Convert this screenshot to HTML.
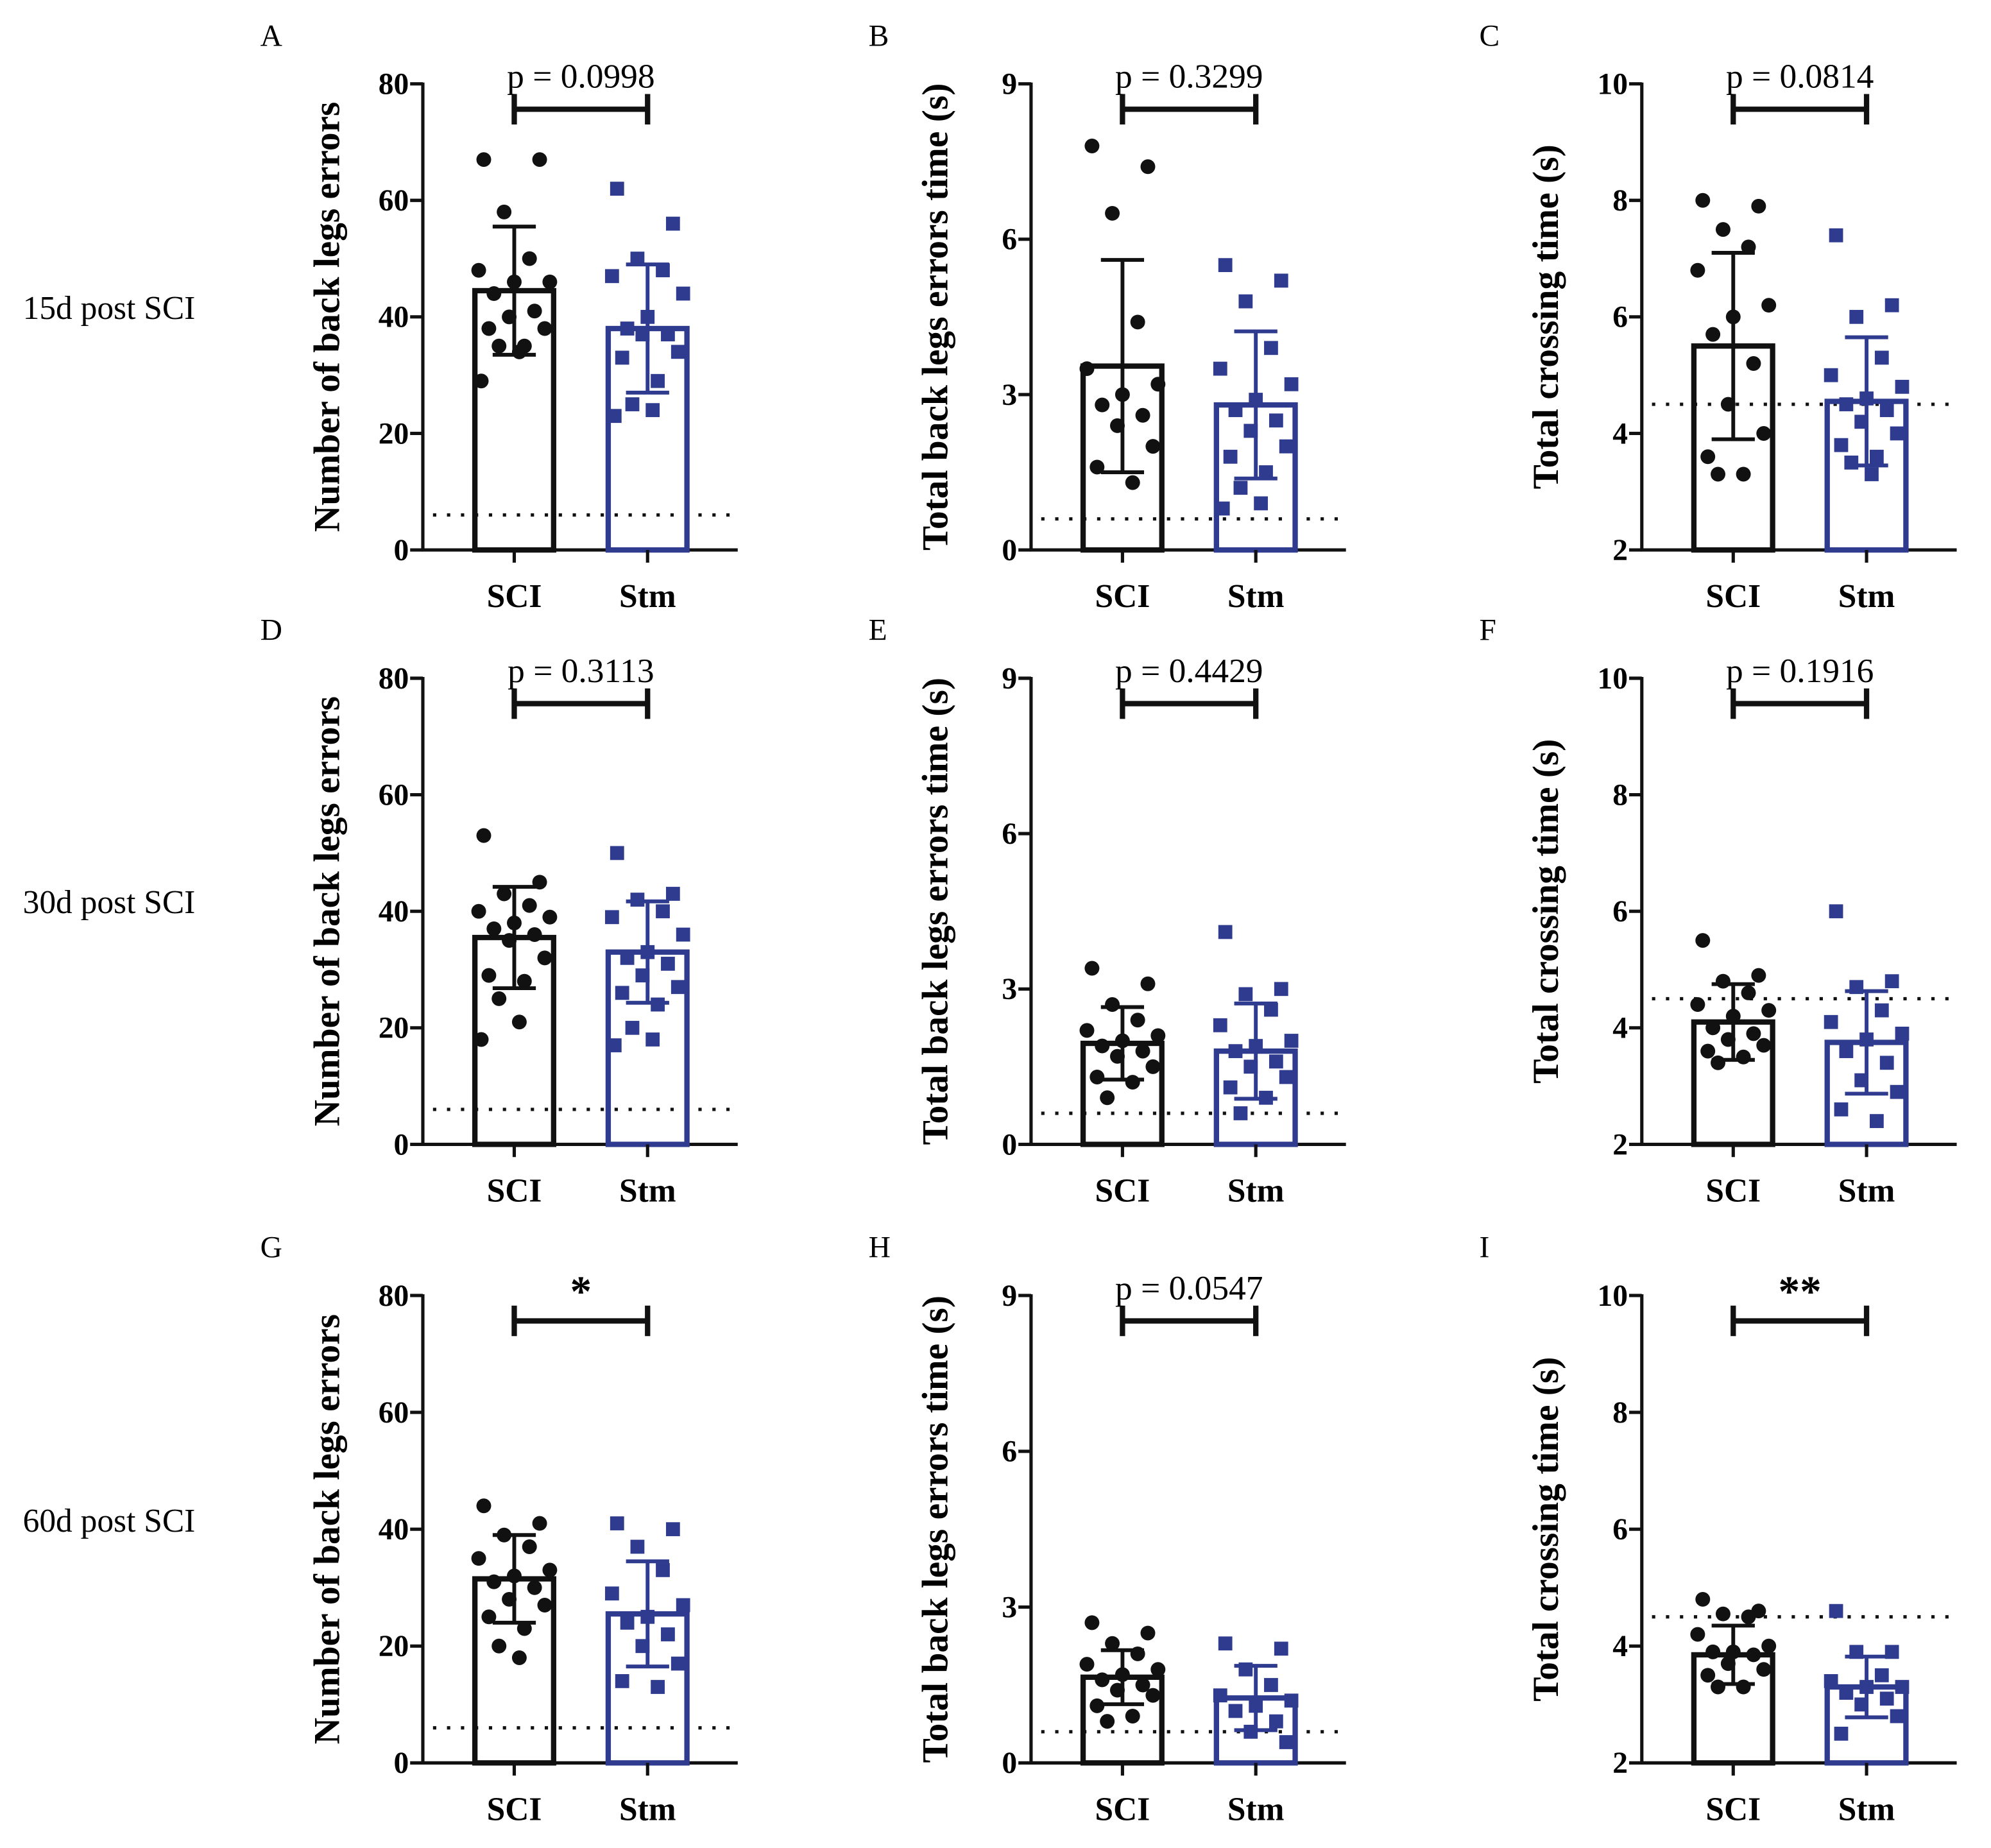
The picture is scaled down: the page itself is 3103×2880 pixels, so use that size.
<!DOCTYPE html>
<html><head><meta charset="utf-8"><style>
html,body{margin:0;padding:0;background:#fff;}
svg{display:block;}
text{font-family:"Liberation Serif",serif;}
</style></head><body>
<svg id="fig" width="3103" height="2880" viewBox="0 0 1568 1455" preserveAspectRatio="none" xmlns="http://www.w3.org/2000/svg">
<rect width="1568" height="1455" fill="#fff"/>
</svg>
<script>
const letters=["A","B","C","D","E","F","G","H","I"];
const rowLabels=["15d post SCI","30d post SCI","60d post SCI"];
const groups=["SCI","Stm"];
const sigLabels=["p = 0.0998","p = 0.3299","p = 0.0814","p = 0.3113","p = 0.4429","p = 0.1916","*","p = 0.0547","**"];
const yTitles=["Number of back legs errors","Total back legs errors time (s)","Total crossing time (s)"];
const yTicksA=[0,20,40,60,80];
const yTicksB=[0,3,6,9];
const yTicksC=[2,4,6,8,10];
const refLines=[6,0.6,4.5];
const sciMeans=[44.5,3.55,5.5,35.5,1.95,4.1,31.5,1.65,3.85];
const sciSD=[11,2.05,1.6,8.7,0.7,0.65,7.5,0.52,0.5];
const stmMeans=[38,2.8,4.55,33,1.8,3.75,25.5,1.25,3.3];
const stmSD=[11,1.42,1.1,8.7,0.92,0.88,9,0.62,0.52];
const sciPts=[
[67,67,58,50,48,46,46,44,41,40,38,38,35,35,34,29],
[7.8,7.4,6.5,4.4,3.5,3.2,3.0,2.8,2.6,2.4,2.0,1.6,1.3],
[8,7.9,7.5,7.2,6.8,6.2,6.0,5.7,5.2,4.5,4.0,3.6,3.3,3.3],
[53,45,43,41,40,39,38,37,36,35,32,29,28,25,21,18],
[3.4,3.1,2.7,2.4,2.2,2.1,2.0,1.9,1.8,1.7,1.5,1.3,1.2,0.9],
[5.5,4.9,4.8,4.6,4.4,4.3,4.2,4.0,3.9,3.8,3.7,3.6,3.5,3.4],
[44,41,39,37,35,33,32,31,30,28,27,25,23,20,18],
[2.7,2.5,2.3,2.1,1.9,1.8,1.7,1.6,1.5,1.4,1.3,1.1,0.9,0.8],
[4.8,4.6,4.55,4.5,4.2,4.0,3.9,3.9,3.85,3.7,3.6,3.5,3.3,3.3]];
const stmPts=[
[62,56,50,48,47,44,40,38,37,37,34,33,29,25,24,23],
[5.5,5.2,4.8,3.9,3.5,3.2,2.9,2.7,2.5,2.3,2.0,1.8,1.5,1.2,0.9,0.8],
[7.4,6.2,6.0,5.3,5.0,4.8,4.6,4.5,4.4,4.2,4.0,3.8,3.6,3.5,3.3],
[50,43,42,40,39,36,33,32,31,29,27,26,24,20,18,17],
[4.1,3.0,2.9,2.6,2.3,2.0,1.9,1.8,1.6,1.5,1.3,1.1,0.9,0.6],
[6.0,4.8,4.7,4.3,4.1,3.9,3.8,3.6,3.4,3.1,2.9,2.6,2.4],
[41,40,37,33,29,27,25,24,22,20,17,14,13],
[2.3,2.2,1.8,1.5,1.3,1.2,1.1,1.0,0.8,0.6,0.4],
[4.6,3.9,3.9,3.5,3.4,3.3,3.3,3.2,3.1,3.0,2.8,2.5]];

const NS="http://www.w3.org/2000/svg";
const svg=document.getElementById('fig');
function mk(tag,attrs,parent,txt){const e=document.createElementNS(NS,tag);for(const k in attrs)e.setAttribute(k,attrs[k]);if(txt!==undefined)e.textContent=txt;(parent||svg).appendChild(e);return e;}
const BLUE="#2f3b8f";
const axisX=[333,812,1293];
const rowTop=[66,534,1020];
const rowBot=[433,901,1388];
const jit=[-24,20,-8,12,-28,28,0,-16,16,-4,24,-20,8,-12,4,-26];

for(let r=0;r<3;r++){
  const rl=mk('text',{x:18,y:rowBot[r]-190+8,'font-size':26},svg,rowLabels[r]);
  
  
  for(let c=0;c<3;c++){
    const i=r*3+c;
    const g=mk('g',{});
    
    
    const ticks=c===0?yTicksA:(c===1?yTicksB:yTicksC);
    const lo=ticks[0],hi=ticks[ticks.length-1];
    const ax=axisX[c],top=rowTop[r],bot=rowBot[r];
    const y=v=>bot-(v-lo)/(hi-lo)*(bot-top);
    const cx=[ax+72,ax+177];
    const pl=mk('text',{x:ax-128,y:top-30,'font-size':24},g,letters[i]);
    
    
    const yt=mk('text',{x:0,y:0,'font-size':29,'font-weight':'bold','text-anchor':'middle',transform:`translate(${ax-66},${(top+bot)/2}) rotate(-90)`},g,yTitles[c]);
    
    
    const yl=mk('line',{x1:ax,y1:top-1,x2:ax,y2:bot+1,stroke:'#111','stroke-width':2.6},g);
    
    
    const xl=mk('line',{x1:ax-1,y1:bot,x2:ax+248,y2:bot,stroke:'#111','stroke-width':2.6},g);
    
    
    ticks.forEach(t=>{
      const tl=mk('line',{x1:ax-10,y1:y(t),x2:ax,y2:y(t),stroke:'#111','stroke-width':2.6},g);
      
      
      const tt=mk('text',{x:ax-11,y:y(t)+8,'font-size':24,'font-weight':'bold','text-anchor':'end'},g,String(t));
      
      
    });
    const dl=mk('line',{x1:ax+8,y1:y(refLines[c]),x2:ax+248,y2:y(refLines[c]),stroke:'#111','stroke-width':2.6,'stroke-dasharray':'2.6 8.4'},g);
    
    
    const means=[sciMeans[i],stmMeans[i]],sds=[sciSD[i],stmSD[i]],pts=[sciPts[i],stmPts[i]];
    for(let k=0;k<2;k++){
      const col=k===0?'#111':BLUE;
      const b=mk('rect',{x:cx[k]-31,y:y(means[k]),width:62,height:bot-y(means[k]),fill:'none',stroke:col,'stroke-width':4.2},g);
      
      
      pts[k].forEach((v,j)=>{
        const px=cx[k]+jit[j%jit.length];
        let m;
        if(k===0)m=mk('circle',{cx:px,cy:y(v),r:5.8,fill:'#111'},g);
        else m=mk('rect',{x:px-5.5,y:y(v)-5.5,width:11,height:11,fill:BLUE},g);
        
        
      });
      const e1=y(means[k]+sds[k]),e2=y(Math.max(lo,means[k]-sds[k]));
      const eb=mk('path',{d:`M${cx[k]},${e1}V${e2}M${cx[k]-17},${e1}H${cx[k]+17}M${cx[k]-17},${e2}H${cx[k]+17}`,stroke:col,'stroke-width':3,fill:'none'},g);
      
      
      const xt=mk('line',{x1:cx[k],y1:bot,x2:cx[k],y2:bot+10,stroke:'#111','stroke-width':2.6},g);
      
      
      const xlab=mk('text',{x:cx[k],y:bot+45,'font-size':26,'font-weight':'bold','text-anchor':'middle'},g,groups[k]);
      
      
    }
    const by=top+20;
    const br=mk('path',{d:`M${cx[0]},${by-12}V${by+12}M${cx[1]},${by-12}V${by+12}M${cx[0]},${by}H${cx[1]}`,stroke:'#111','stroke-width':4.2,fill:'none'},g);
    
    
    const star=sigLabels[i].startsWith('*');
    const st=mk('text',{x:(cx[0]+cx[1])/2,y:star?top+8:top+3,'font-size':star?34:27,'font-weight':star?'bold':'normal','text-anchor':'middle'},g,sigLabels[i]);
    
    
  }
}
</script>
</body></html>
